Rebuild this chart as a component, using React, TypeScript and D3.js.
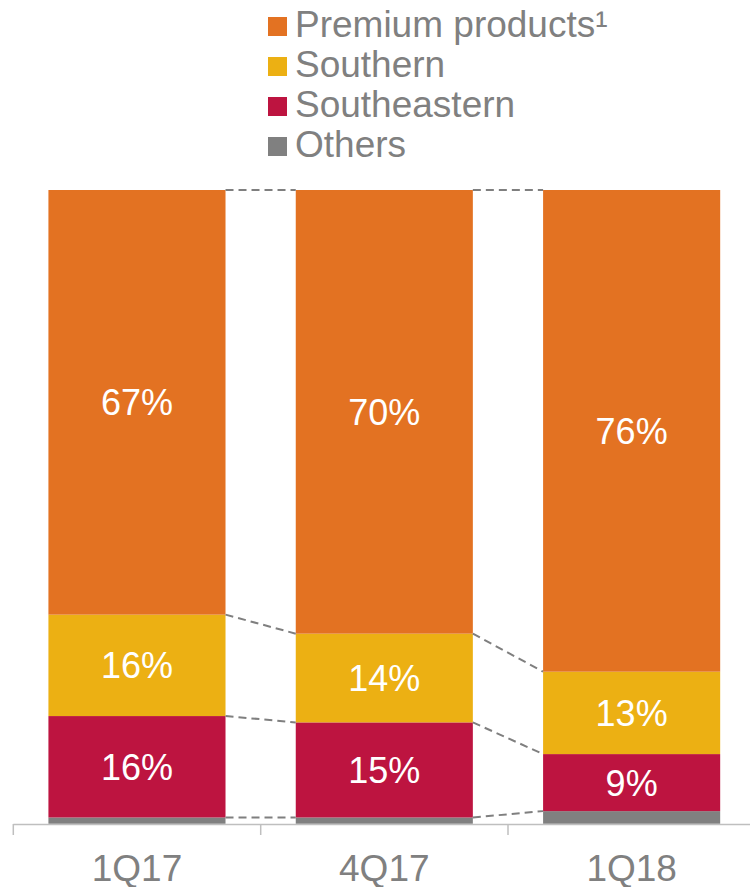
import React from "react";
import * as d3 from "d3";

const categories = ["1Q17", "4Q17", "1Q18"];
const seriesNames = ["Others", "Southeastern", "Southern", "Premium products¹"];
const others = [1, 1, 2];
const southeastern = [16, 15, 9];
const southern = [16, 14, 13];
const premium = [67, 70, 76];
const colors = ["#808080", "#BD1440", "#ECB013", "#E37222"];
const legendOrder = [3, 2, 1, 0];

export default function App() {
  const W = 750, H = 887;
  const x = d3.scaleBand<string>().domain(categories).range([13.3, 755.3]).paddingInner(0.284).paddingOuter(0.142);
  const y = d3.scaleLinear().domain([0, 100]).range([823.8, 190]);
  const rows = categories.map((c, i) => ({
    cat: c,
    Others: others[i],
    Southeastern: southeastern[i],
    Southern: southern[i],
    "Premium products¹": premium[i],
  }));
  const stack = d3.stack<any>().keys(seriesNames)(rows);
  const font = "'Liberation Sans', Arial, sans-serif";
  const bw = x.bandwidth();
  const ticks = [13.3, 260.7, 508, 755.3];

  const connectors: any[] = [];
  for (let i = 0; i < categories.length - 1; i++) {
    stack.forEach((layer, li) => {
      const y1 = y(layer[i][1]);
      const y2 = y(layer[i + 1][1]);
      connectors.push(
        <line key={`c${i}-${li}`} x1={(x(categories[i]) as number) + bw} x2={x(categories[i + 1]) as number}
          y1={y1} y2={y2} stroke="#7f7f7f" strokeWidth={2} strokeDasharray="8,5" />
      );
    });
  }

  return (
    <svg width={W} height={H} style={{ position: "absolute", left: 0, top: 0, background: "#fff" }} fontFamily={font}>
      {stack.map((layer, li) => (
        <g key={layer.key} fill={colors[li]}>
          {layer.map((d, i) => (
            <rect key={i} x={x(categories[i])} y={y(d[1])} width={bw} height={y(d[0]) - y(d[1])} />
          ))}
        </g>
      ))}
      {connectors}
      {stack.map((layer, li) =>
        li === 0 ? null : layer.map((d, i) => (
          <text key={`l${li}-${i}`} x={(x(categories[i]) as number) + bw / 2} y={(y(d[0]) + y(d[1])) / 2 + 13}
            textAnchor="middle" fill="#fff" fontSize={36}>
            {`${d[1] - d[0]}%`}
          </text>
        ))
      )}
      <line x1={13.3} x2={750} y1={824.5} y2={824.5} stroke="#bfbfbf" strokeWidth={1.5} />
      {ticks.map((t, i) => (
        <line key={i} x1={t} x2={t} y1={824} y2={835} stroke="#bfbfbf" strokeWidth={1.5} />
      ))}
      {categories.map((c) => (
        <text key={c} x={(x(c) as number) + bw / 2} y={880.5} textAnchor="middle" fill="#808080" fontSize={37}>
          {c}
        </text>
      ))}
      {legendOrder.map((si, k) => (
        <g key={si}>
          <rect x={268} y={17 + k * 40} width={19} height={19} fill={colors[si]} />
          <text x={295} y={37 + k * 40} fill="#808080" fontSize={37}>{seriesNames[si]}</text>
        </g>
      ))}
    </svg>
  );
}
